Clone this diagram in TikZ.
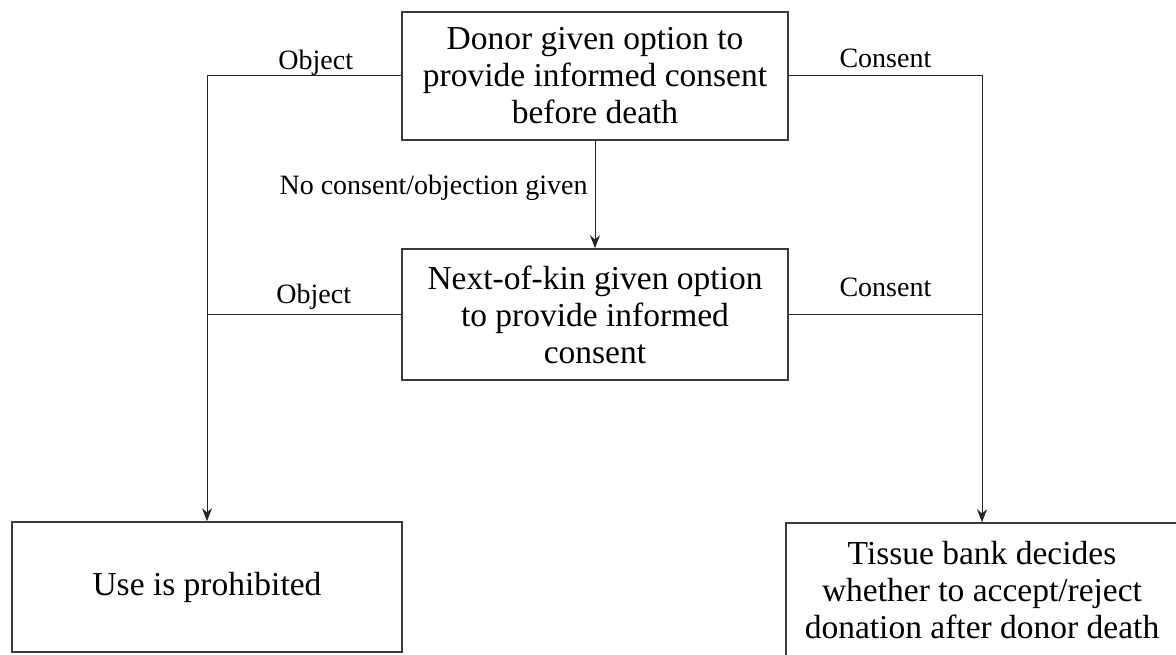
\documentclass[tikz,border=0pt]{standalone}
\usepackage{fontspec}
\setmainfont{Liberation Serif}
\usetikzlibrary{arrows.meta}
\definecolor{boxline}{HTML}{3A3A3A}
\tikzset{
  box/.style={draw=boxline, line width=1.6pt, align=center, inner sep=0pt,
    font=\fontsize{33.5}{37}\selectfont, text=black},
  conn/.style={draw=black!85, line width=1pt},
  arr/.style={conn, -{Stealth[length=13pt,width=10pt]}},
  lbl/.style={font=\fontsize{28}{31}\selectfont, text=black, inner sep=2pt}
}
\begin{document}
\begin{tikzpicture}[x=1pt,y=-1pt]
\useasboundingbox (0,0) rectangle (1176,655);
\node[box, minimum width=386, minimum height=128] (donor) at (595,76)
  {Donor given option to\\provide informed consent\\before death};
\node[box, minimum width=386, minimum height=131] (kin) at (595,314.5)
  {Next-of-kin given option\\to provide informed\\consent};
\node[box, minimum width=390, minimum height=130] (prohib) at (207,587)
  {Use is prohibited};
\node[box, minimum width=392, minimum height=134] (tissue) at (982,590)
  {Tissue bank decides\\whether to accept/reject\\donation after donor death};
\draw[arr] (donor.west) -| node[lbl, pos=0.22, anchor=south, yshift=-2pt] {Object} (prohib.north);
\draw[arr] (donor.east) -| node[lbl, pos=0.25, anchor=south, yshift=6pt] {Consent} (tissue.north);
\draw[arr] (donor.south) -- node[lbl, pos=0.44, anchor=east, xshift=-5pt] {No consent/objection given} (kin.north);
\draw[conn] (kin.west) -- node[lbl, pos=0.45, anchor=south, yshift=3pt] {Object} (kin.west -| prohib.north);
\draw[conn] (kin.east) -- node[lbl, pos=0.5, anchor=south, yshift=15pt] {Consent} (kin.east -| tissue.north);
\end{tikzpicture}
\end{document}
